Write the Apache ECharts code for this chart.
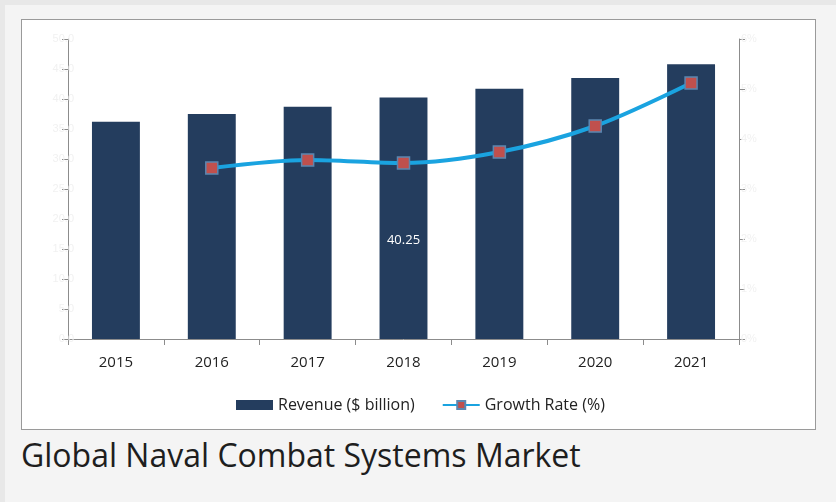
<!DOCTYPE html>
<html>
<head>
<meta charset="utf-8">
<script src="https://cdn.jsdelivr.net/npm/echarts@6/dist/echarts.min.js"></script>
<style>
  html, body { margin: 0; padding: 0; width: 836px; height: 502px; overflow: hidden; background: #e8e8e8; font-family: "Open Sans", sans-serif; }
  #bg { position: absolute; left: 5px; top: 5px; width: 831px; height: 497px; background: #f4f4f4; }
  #frame { position: absolute; left: 21px; top: 19px; width: 793px; height: 409px; background: #ffffff; border: 1px solid #9a9a9a; }
  #caption { position: absolute; left: 21px; top: 433px; font-size: 32px; line-height: 44px; color: #1e1e1e; font-family: "Open Sans", sans-serif; white-space: nowrap; }
  #chart { position: absolute; left: 0; top: 0; width: 836px; height: 502px; }
</style>
</head>
<body>
<div id="bg"></div>
<div id="frame"></div>
<div id="caption">Global Naval Combat Systems Market</div>
<div id="chart"></div>
<script>
const years = ['2015', '2016', '2017', '2018', '2019', '2020', '2021'];
const revenue = [36.2, 37.5, 38.7, 40.25, 41.7, 43.5, 45.8];
const growthRate = [null, 3.42, 3.58, 3.52, 3.74, 4.26, 5.12];
const labelledYear = '2018';

const chart = echarts.init(document.getElementById('chart'), null, { renderer: 'canvas' });
const faint = '#f1f1f1';
chart.setOption({
  backgroundColor: 'transparent',
  animation: false,
  grid: { left: 68, right: 97, top: 39, bottom: 163, containLabel: false },
  legend: {
    left: 231, top: 392, itemGap: 27, itemWidth: 37, itemHeight: 10,
    textStyle: { fontFamily: 'Open Sans', fontSize: 16, color: '#222' },
    data: [
      { name: 'Revenue ($ billion)', icon: 'rect' },
      { name: 'Growth Rate (%)' }
    ]
  },
  xAxis: {
    type: 'category', data: years,
    axisLine: { lineStyle: { color: '#8c8c8c', width: 1 } },
    axisTick: { show: true, length: 6, alignWithLabel: false, lineStyle: { color: '#8c8c8c' } },
    axisLabel: { fontFamily: 'Open Sans', fontSize: 15, color: '#222', margin: 16 }
  },
  yAxis: [
    {
      type: 'value', min: 0, max: 50, interval: 5, position: 'left',
      splitLine: { show: false },
      axisLine: { show: true, lineStyle: { color: '#8c8c8c' } },
      axisTick: { show: true, inside: false, length: 6, lineStyle: { color: '#8c8c8c' } },
      axisLabel: { color: faint, fontSize: 11, margin: -6, formatter: v => v.toFixed(1) }
    },
    {
      type: 'value', min: 0, max: 6, interval: 1, position: 'right',
      splitLine: { show: false },
      axisLine: { show: true, lineStyle: { color: '#8c8c8c' } },
      axisTick: { show: true, inside: false, length: 6, lineStyle: { color: '#8c8c8c' } },
      axisLabel: { color: faint, fontSize: 11, margin: 2, formatter: '{value}%' }
    }
  ],
  series: [
    {
      name: 'Revenue ($ billion)', type: 'bar', yAxisIndex: 0, barWidth: '50%',
      itemStyle: { color: '#243d5e' },
      data: revenue.map((v, i) => years[i] === labelledYear ? {
        value: v,
        label: { show: true, position: 'inside', offset: [0, 22], color: '#ffffff', fontFamily: 'Open Sans', fontSize: 13, formatter: '{c}' }
      } : v)
    },
    {
      name: 'Growth Rate (%)', type: 'line', yAxisIndex: 1, smooth: 0.3,
      symbol: 'rect', symbolSize: 12, showSymbol: true,
      lineStyle: { color: '#1aa3e0', width: 4 },
      itemStyle: { color: '#c0504d', borderColor: '#5b86b0', borderWidth: 1.5 },
      data: growthRate
    }
  ]
});
</script>
</body>
</html>
